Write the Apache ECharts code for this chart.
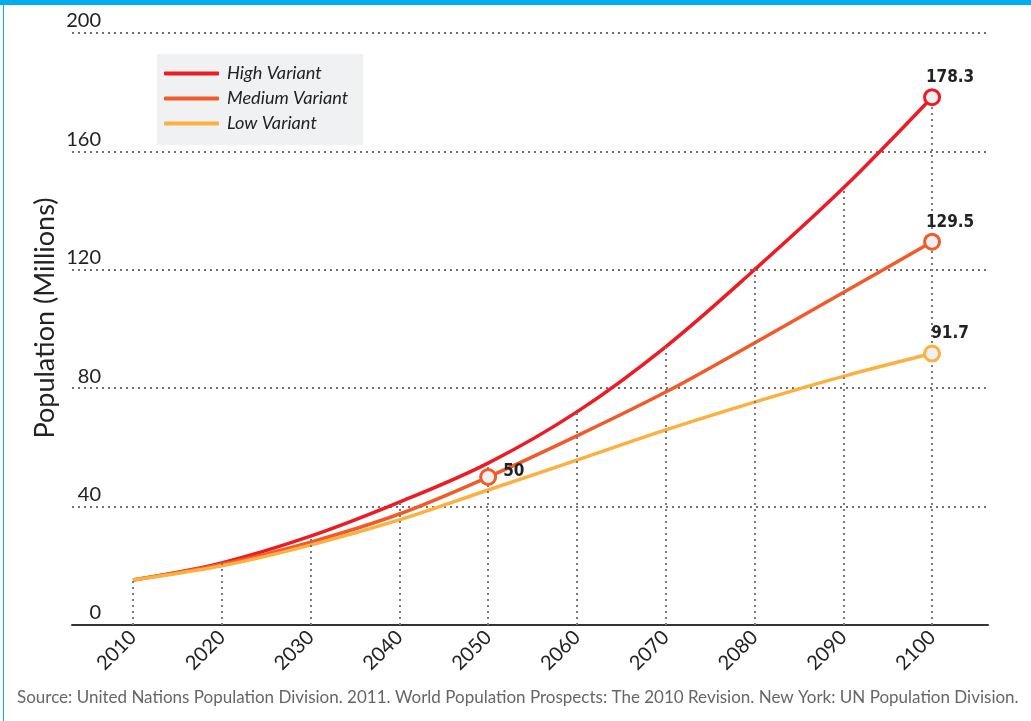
<!DOCTYPE html>
<html>
<head>
<meta charset="utf-8">
<script src="https://cdn.jsdelivr.net/npm/echarts@6/dist/echarts.min.js"></script>
<style>
  html, body { margin: 0; padding: 0; background: #fff; }
  #wrap { position: relative; width: 1031px; height: 721px; }
  #topbar { position: absolute; left: 0; top: 0; width: 1031px; height: 5px; background: #00aeef; }
  #leftbar { position: absolute; left: 3px; top: 0; width: 1px; height: 721px; background: #00aeef; }
  #chart { position: absolute; left: 0; top: 0; width: 1031px; height: 721px; }
</style>
</head>
<body>
<div id="wrap">
  <div id="chart"></div>
  <div id="topbar"></div>
  <div id="leftbar"></div>
</div>
<script>
// data
const years = [2010, 2020, 2030, 2040, 2050, 2060, 2070, 2080, 2090, 2100];
const highVariant = [15.2, 21, 30, 41.5, 54.7, 72, 94, 120, 147.6, 178.3];
const mediumVariant = [15.2, 20.5, 28, 37.5, 50, 63.9, 78.7, 95.3, 112.3, 129.5];
const lowVariant = [15.2, 20, 27, 35.5, 45.6, 55.7, 65.9, 75.3, 84, 91.7];
const yTicks = [0, 40, 80, 120, 160, 200];

// points that get a hollow marker + label
const highMarks = [2100];
const mediumMarks = [2050, 2100];
const lowMarks = [2100];

const colors = { high: '#ec1c24', medium: '#f15a29', low: '#fbb040' };

const chart = echarts.init(document.getElementById('chart'));

const pairs = (vals) => years.map((y, i) => [y, vals[i]]);

const makeSeries = (name, vals, color, marks) => ({
  name,
  type: 'line',
  smooth: 0.35,
  symbol: 'none',
  lineStyle: { color, width: 3.5 },
  itemStyle: { color },
  data: pairs(vals),
  z: 3,
  markPoint: {
    symbol: 'circle',
    symbolSize: 15,
    itemStyle: { color: '#eef0f2', borderColor: color, borderWidth: 3 },
    label: {
      show: true,
      fontFamily: '"Liberation Sans Narrow", "DejaVu Sans Condensed", Roboto',
      fontWeight: 'bold',
      fontSize: 17,
      color: '#222',
      position: 'top',
      offset: [18, 3],
      formatter: (p) => String(p.value),
    },
    data: marks.map((yr) => {
      const v = vals[years.indexOf(yr)];
      return { coord: [yr, v], value: v, label: yr === 2050 ? { position: 'right', offset: [1, -5] } : {} };
    }),
  },
});

// vertical dotted drop lines from the axis to the top curve
const dropLines = years.map((y, i) => [
  { coord: [y, 0] },
  { coord: [y, highVariant[i]] },
]);

const option = {
  animation: false,
  textStyle: { fontFamily: 'Lato' },
  grid: { left: 72, right: 43, top: 33, bottom: 96 },
  legend: {
    left: 157,
    top: 54,
    orient: 'vertical',
    backgroundColor: '#f0f1f3',
    borderRadius: 0,
    padding: [10, 15, 12, 7],
    itemWidth: 55,
    itemHeight: 4,
    itemGap: 6,
    icon: 'roundRect',
    textStyle: { fontFamily: 'Lato', fontStyle: 'italic', fontSize: 18.2, color: '#222', padding: [0, 0, 0, 3], lineHeight: 19 },
    data: ['High Variant', 'Medium Variant', 'Low Variant'],
  },
  xAxis: {
    type: 'value',
    min: 2003.13,
    max: 2106.3,
    axisLine: { show: true, onZero: true, lineStyle: { color: '#333', width: 2 } },
    axisTick: { show: false },
    splitLine: { show: false },
    axisLabel: {
      customValues: years,
      rotate: 45,
      fontSize: 20,
      color: '#222',
      margin: 9,
      formatter: (v) => String(v),
    },
  },
  yAxis: {
    type: 'value',
    min: 0,
    max: 200,
    interval: 40,
    axisLine: { show: false },
    axisTick: { show: false },
    axisLabel: {
      inside: true,
      margin: 29,
      align: 'right',
      verticalAlign: 'bottom',
      padding: [0, 0, 2, 0],
      fontSize: 20,
      color: '#222',
      customValues: yTicks,
    },
    splitLine: { show: true, lineStyle: { color: '#7a6e64', width: 2, type: [2, 4] } },
  },
  series: [
    makeSeries('High Variant', highVariant, colors.high, highMarks),
    makeSeries('Medium Variant', mediumVariant, colors.medium, mediumMarks),
    makeSeries('Low Variant', lowVariant, colors.low, lowMarks),
    {
      name: 'drops',
      type: 'line',
      data: [],
      z: 1,
      silent: true,
      markLine: {
        symbol: 'none',
        silent: true,
        label: { show: false },
        lineStyle: { color: '#7a7a7a', width: 2, type: [2, 4] },
        data: dropLines,
      },
    },
  ],
  graphic: [
    {
      type: 'text',
      x: 45,
      y: 318,
      rotation: Math.PI / 2,
      style: {
        text: 'Population (Millions)',
        fontFamily: 'Lato',
        fontSize: 27,
        fill: '#222',
        align: 'center',
        verticalAlign: 'middle',
      },
    },
    {
      type: 'text',
      left: 17,
      top: 689,
      style: {
        text: 'Source: United Nations Population Division. 2011. World Population Prospects: The 2010 Revision. New York: UN Population Division.',
        fontFamily: 'Lato',
        fontSize: 17,
        fill: '#666',
      },
    },
  ],
};

chart.setOption(option);
</script>
</body>
</html>
